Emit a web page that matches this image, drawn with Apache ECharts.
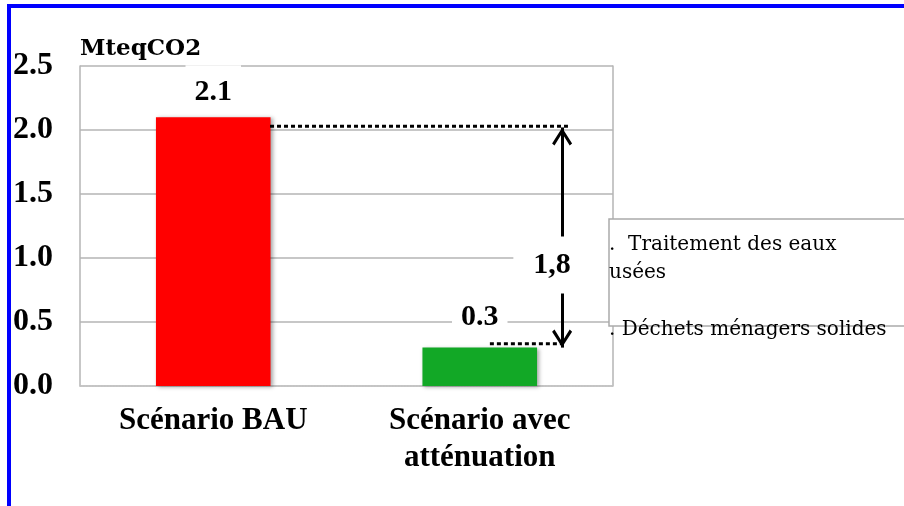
<!DOCTYPE html>
<html>
<head lang="fr">
    <meta charset="UTF-8">
    <title></title>
    <script src="https://cdn.jsdelivr.net/npm/echarts@6/dist/echarts.min.js"></script>
</head>
<body style="margin:0;background:#fff;">
<div id="container" style="height:506px;width:904px;"></div>
<script>
    // données
    var categories = ['Scénario BAU', 'Scénario avec\natténuation'];
    var values = [2.1, 0.3];
    var barColors = ['#ff0000', '#12a826'];
    var yTicks = [0, 0.5, 1.0, 1.5, 2.0, 2.5];
    var guideLevels = [2.03, 0.33];   // niveaux des pointillés
    var arrowEnds = [2.02, 0.30];     // pointes de la double flèche
    var legendItems = ['.  Traitement des eaux\nusées', '. Déchets ménagers solides'];

    var diffLabel = (values[0] - values[1]).toFixed(1).replace('.', ',');

    // chevron ouvert, pointe au centre du symbole
    var chevron = 'path://M9.9,0 L10.1,0 L10,0.1 Z M10,18 L20,33.5 L17.6,35.5 L10,23.5 L2.4,35.5 L0,33.5 Z';

    var dom = document.getElementById('container');
    var myChart = echarts.init(dom);

    var boldSerif = {
        fontFamily: '"Liberation Serif", "Times New Roman", serif',
        fontWeight: 'bold',
        color: '#000'
    };

    var option = {
        animation: false,
        grid: {left: 80, top: 66, width: 533, height: 320, containLabel: false},
        xAxis: [
            {
                type: 'category',
                data: categories,
                axisTick: {show: false},
                axisLine: {lineStyle: {color: '#c4c4c4', type: 'dotted', width: 1.5}},
                axisLabel: Object.assign({fontSize: 31, lineHeight: 37, margin: 16, interval: 0}, boldSerif)
            },
            {type: 'value', min: 0, max: 2, show: false}
        ],
        yAxis: [
            {
                type: 'value',
                min: yTicks[0],
                max: yTicks[yTicks.length - 1],
                interval: yTicks[1] - yTicks[0],
                name: 'MteqCO2',
                nameLocation: 'end',
                nameGap: 17,
                nameTextStyle: {
                    fontFamily: '"DejaVu Serif", serif', fontWeight: 'bold', fontSize: 23,
                    color: '#000', align: 'left', verticalAlign: 'middle'
                },
                axisLine: {show: true, lineStyle: {color: '#b4b4b4', width: 1.5}},
                axisTick: {show: false},
                splitLine: {lineStyle: {color: '#b4b4b4', width: 1.5}},
                axisLabel: Object.assign({
                    fontSize: 32, margin: 27,
                    formatter: function (v) { return v.toFixed(1); }
                }, boldSerif)
            },
            {
                type: 'value', position: 'right',
                min: yTicks[0], max: yTicks[yTicks.length - 1],
                axisLine: {show: true, lineStyle: {color: '#b4b4b4', width: 1.5}},
                axisTick: {show: false}, axisLabel: {show: false}, splitLine: {show: false}
            }
        ],
        series: [
            {
                type: 'bar',
                barWidth: '43%',
                data: values.map(function (v, i) {
                    return {value: v, itemStyle: {color: barColors[i]}, label: {distance: [6, 11][i]}};
                }),
                itemStyle: {
                    shadowBlur: 4, shadowColor: 'rgba(0,0,0,0.35)', shadowOffsetX: 2, shadowOffsetY: 1
                },
                label: Object.assign({
                    show: true, position: 'top', fontSize: 30, lineHeight: 30,
                    backgroundColor: '#fff', padding: [12, 9, 4, 9],
                    formatter: function (p) { return p.value.toFixed(1); }
                }, boldSerif),
                silent: true
            },
            {
                type: 'line',
                xAxisIndex: 1,
                symbol: 'none',
                silent: true,
                z: 5,
                lineStyle: {color: '#000', width: 3, type: [4, 3]},
                data: [[0.713, guideLevels[0]], [1.831, guideLevels[0]]]
            },
            {
                type: 'line',
                xAxisIndex: 1,
                symbol: 'none',
                silent: true,
                z: 5,
                lineStyle: {color: '#000', width: 3, type: [4, 3]},
                data: [[1.538, guideLevels[1]], [1.809, guideLevels[1]]],
                markLine: {
                    silent: true,
                    symbol: [chevron, chevron],
                    symbolSize: [20, 36],
                    lineStyle: {color: '#000', width: 3, type: 'solid'},
                    label: {show: false},
                    data: [[{coord: [1.809, arrowEnds[0]]}, {coord: [1.809, arrowEnds[1]]}]]
                },
                markPoint: {
                    silent: true,
                    symbol: 'rect',
                    symbolSize: 1,
                    itemStyle: {color: 'rgba(0,0,0,0)'},
                    label: Object.assign({
                        show: true, position: 'inside', fontSize: 30, lineHeight: 30,
                        backgroundColor: '#fff', padding: [14, 40, 13, 20],
                        formatter: diffLabel
                    }, boldSerif),
                    data: [{coord: [1.809, 0.945], value: diffLabel}]
                }
            }
        ],
        graphic: [
            {
                type: 'rect', z: 100,
                shape: {x: 9, y: 6, width: 1000, height: 600},
                style: {fill: 'none', stroke: '#0000ff', lineWidth: 4}
            },
            {
                type: 'rect', z: 50,
                shape: {x: 609, y: 219, width: 320, height: 107},
                style: {fill: '#fff', stroke: '#aaaaaa', lineWidth: 1.5}
            },
            {
                type: 'text', z: 51, x: 609, y: 231,
                style: {
                    text: legendItems[0], fontFamily: '"DejaVu Serif", serif', fontSize: 20,
                    lineHeight: 28, fill: '#000', textAlign: 'left', textVerticalAlign: 'top'
                }
            },
            {
                type: 'text', z: 51, x: 609, y: 316,
                style: {
                    text: legendItems[1], fontFamily: '"DejaVu Serif", serif', fontSize: 20,
                    lineHeight: 28, fill: '#000', textAlign: 'left', textVerticalAlign: 'top'
                }
            }
        ]
    };

    myChart.setOption(option);
</script>
</body>
</html>
